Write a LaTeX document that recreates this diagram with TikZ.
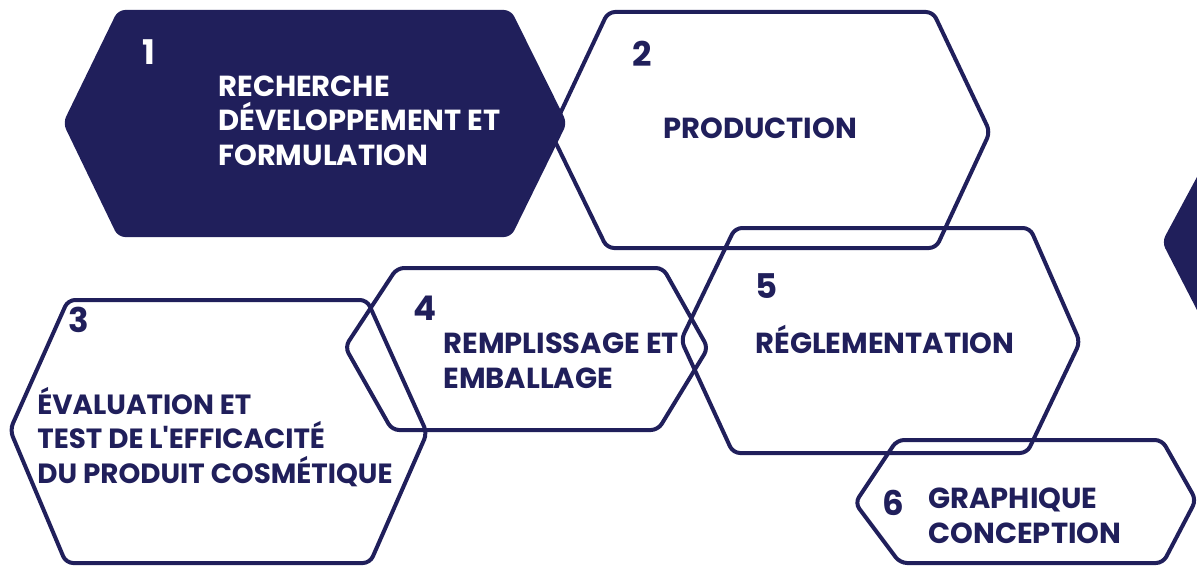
\documentclass[tikz,border=0pt]{standalone}
\usepackage{fontspec}
\setmainfont{Poppins}
\usetikzlibrary{positioning}
\definecolor{navy}{RGB}{32,31,91}

\begin{document}
\begin{tikzpicture}[x=0.5pt, y=-0.5pt,
	hexline/.style={draw=navy, line width=2pt, rounded corners=3.5pt, line join=round},
	hexfill/.style={fill=navy, rounded corners=3.5pt},
	num/.style={font=\fontsize{17}{17}\selectfont\bfseries, text=navy, inner sep=0pt, anchor=base west},
	lbl/.style={font=\fontsize{14.5}{17.25}\selectfont\bfseries, text=navy, inner sep=0pt, anchor=base west, align=left}]
	\useasboundingbox (0,0) rectangle (1197,567);
	\clip (0,0) rectangle (1197,567);

	% outlined hexagons
	\draw[hexline] (551,133) -- (608,12) -- (933,12) -- (990,132) -- (936,248) -- (607,248) -- cycle;
	\draw[hexline] (681,340) -- (735,228) -- (1030,228) -- (1080,342) -- (1027,453) -- (733,453) -- cycle;
	\draw[hexline] (10,430) -- (68,300) -- (367,300) -- (427,433) -- (370,563) -- (66,563) -- cycle;
	\draw[hexline] (345,347) -- (397,268) -- (663,268) -- (708,348) -- (658,430) -- (392,430) -- cycle;
	\draw[hexline] (855,503) -- (897,440) -- (1162,440) -- (1196,500) -- (1163,563) -- (900,563) -- cycle;

	% filled hexagons
	\fill[hexfill] (1162,242) -- (1233,110) -- (1400,110) -- (1400,380) -- (1233,380) -- cycle;
	\fill[hexfill] (63,123) -- (118,10) -- (511,10) -- (567,123) -- (511,237) -- (118,237) -- cycle;

	% numbers and labels (multi-line labels sit on their last baseline)
	\node[num, text=white] (n1) at (142,65) {1};
	\node[lbl, text=white] (t1) at (218,165) {RECHERCHE\\DÉVELOPPEMENT ET\\FORMULATION};
	\node[num] (n2) at (632,67) {2};
	\node[lbl] (t2) at (663,138) {PRODUCTION};
	\node[num] (n3) at (68,332) {3};
	\node[lbl, font=\fontsize{13.9}{17.25}\selectfont\bfseries] (t3) at (37,483) {ÉVALUATION ET\\TEST DE L\textquotesingle EFFICACITÉ\\DU PRODUIT COSMÉTIQUE};
	\node[num] (n4) at (413,320) {4};
	\node[lbl] (t4) at (443,388) {REMPLISSAGE ET\\EMBALLAGE};
	\node[num] (n5) at (755,298) {5};
	\node[lbl] (t5) at (755,353) {RÉGLEMENTATION};
	\node[num] (n6) at (882,515) {6};
	\node[lbl] (t6) at (928,543) {GRAPHIQUE\\CONCEPTION};
\end{tikzpicture}
\end{document}
